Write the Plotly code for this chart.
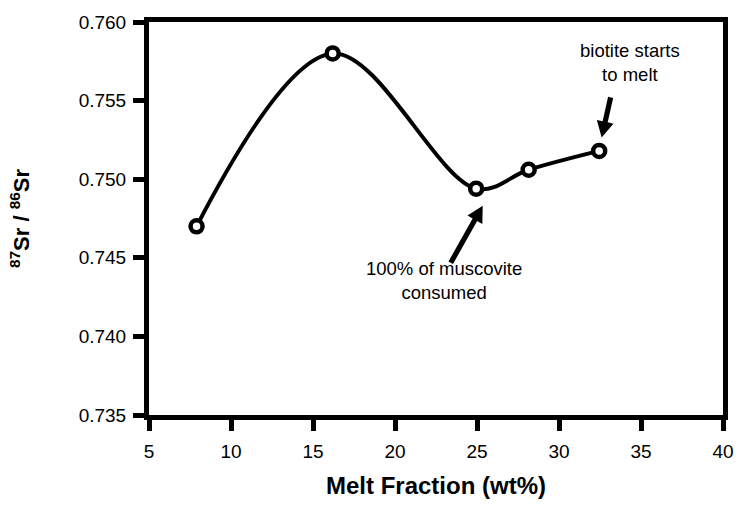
import math
import plotly.graph_objects as go

# Sr isotope ratio of melt versus melt fraction
melt_fraction = [7.9, 16.2, 24.95, 28.15, 32.45]
sr_ratio = [0.7470, 0.7580, 0.7494, 0.7506, 0.7518]

x_ticks = [5, 10, 15, 20, 25, 30, 35, 40]
y_ticks = [0.735, 0.740, 0.745, 0.750, 0.755, 0.760]

FONT = "Liberation Sans, Arial, sans-serif"

fig = go.Figure()
fig.add_trace(go.Scatter(
    x=melt_fraction, y=sr_ratio,
    mode="lines+markers",
    line=dict(color="black", width=4, shape="spline", smoothing=1.0),
    marker=dict(symbol="circle", size=12, color="white",
                line=dict(color="black", width=4.5)),
    showlegend=False, hoverinfo="skip",
))

axis_common = dict(
    showgrid=False, zeroline=False,
    showline=True, linecolor="black", linewidth=5, mirror=True,
    ticks="outside", ticklen=11, tickwidth=5, tickcolor="black",
    tickfont=dict(family=FONT, size=19, color="black"),
)

fig.update_xaxes(
    range=[5, 40], tickvals=x_ticks,
    ticktext=[str(v) for v in x_ticks],
    ticklabelstandoff=4,
    title=dict(text="<b>Melt Fraction (wt%)</b>", standoff=18,
               font=dict(family=FONT, size=24, color="black")),
    **axis_common,
)
fig.update_yaxes(
    range=[0.735, 0.760], tickvals=y_ticks,
    ticktext=[f"{v:.3f}" for v in y_ticks],
    ticklabelstandoff=3,
    title=dict(text="<b><sup>87</sup>Sr / <sup>86</sup>Sr</b>", standoff=44,
               font=dict(family=FONT, size=22, color="black")),
    **axis_common,
)

# labels
fig.add_annotation(x=34.3, y=0.75740, xref="x", yref="y",
                   text="biotite starts<br>to melt", showarrow=False,
                   font=dict(family=FONT, size=18.5, color="black"),
                   align="center")
fig.add_annotation(x=23.0, y=0.74355, xref="x", yref="y",
                   text="100% of muscovite<br>consumed", showarrow=False,
                   font=dict(family=FONT, size=18.5, color="black"),
                   align="center")


def arrow_path(dx, dy, head_len=16, head_half=8.5, shaft_half=2.6):
    """Filled arrow outline in pixels, tip at (0, 0), tail at (dx, dy)."""
    n = math.hypot(dx, dy)
    ux, uy = dx / n, dy / n
    px, py = -uy, ux
    bx, by = ux * head_len, uy * head_len
    pts = [
        (0, 0),
        (bx + px * head_half, by + py * head_half),
        (bx + px * shaft_half, by + py * shaft_half),
        (dx + px * shaft_half, dy + py * shaft_half),
        (dx - px * shaft_half, dy - py * shaft_half),
        (bx - px * shaft_half, by - py * shaft_half),
        (bx - px * head_half, by - py * head_half),
    ]
    return "M " + " L ".join(f"{x:.2f},{y:.2f}" for x, y in pts) + " Z"


# arrows pointing at the transitions (tip in data units, body in pixels)
arrows = [
    (32.6, 0.75266, 9, 40),
    (25.35, 0.74831, -32, -57),
]
for ax_, ay_, dx, dy in arrows:
    fig.add_shape(type="path", path=arrow_path(dx, dy),
                  xref="x", yref="y", xsizemode="pixel", ysizemode="pixel",
                  xanchor=ax_, yanchor=ay_,
                  fillcolor="black", line=dict(width=0))

fig.update_layout(
    width=746, height=510,
    margin=dict(l=149, r=16, t=17, b=95),
    paper_bgcolor="white", plot_bgcolor="white",
    font=dict(family=FONT, color="black"),
)

fig.write_html("out.html")
